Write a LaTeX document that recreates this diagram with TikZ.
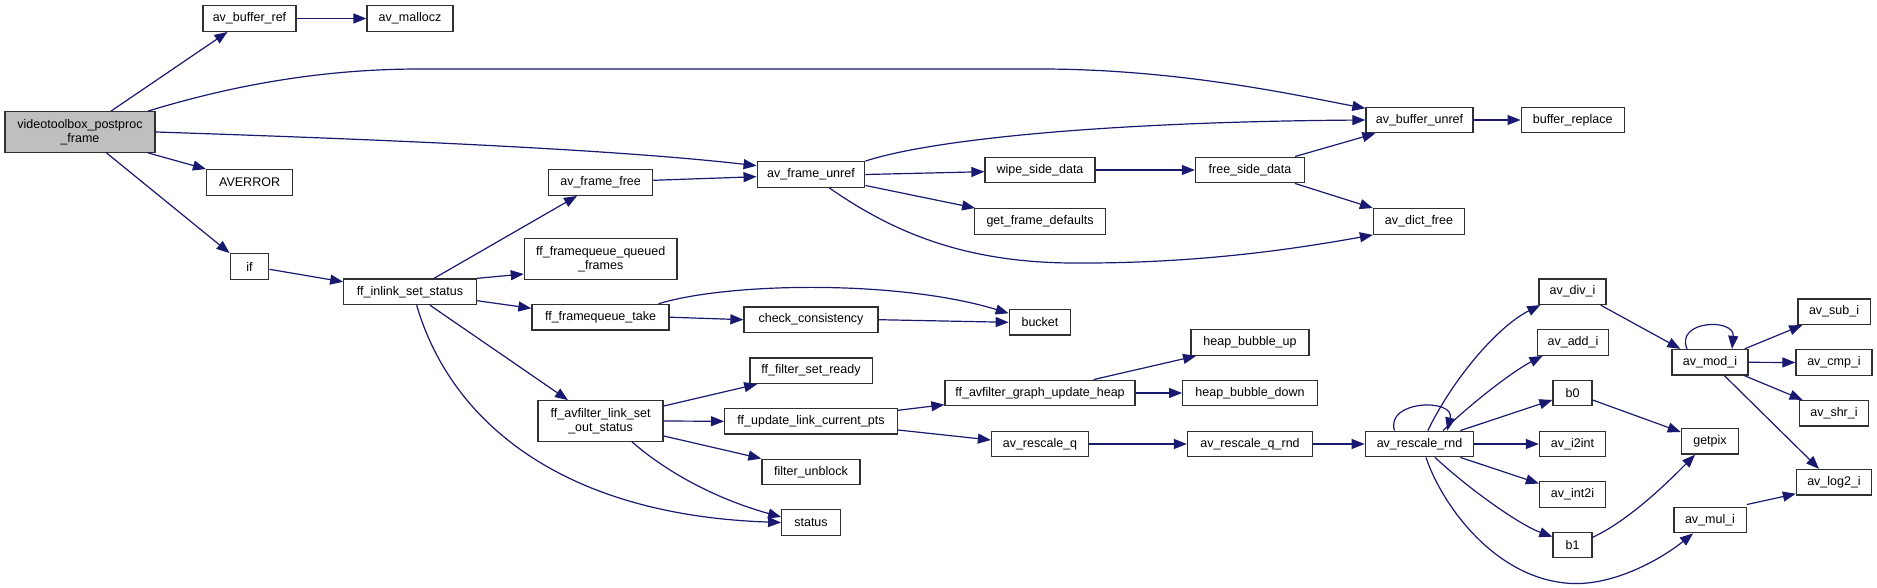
\documentclass[tikz,border=0pt]{standalone}
\usepackage{fontspec}
\newfontfamily\gfont{Liberation Sans}
\usetikzlibrary{arrows.meta}
\definecolor{edgec}{HTML}{191970}
\definecolor{rootc}{HTML}{BFBFBF}
\definecolor{boxc}{HTML}{303030}
\tikzset{
  fn/.style={draw=boxc, line width=1.3pt, fill=white, minimum height=25.6pt, inner sep=0pt,
    font=\gfont\fontsize{12.5}{14.3}\selectfont, align=center},
  fn2/.style={fn, minimum height=40.5pt},
  e/.style={draw=edgec, line width=1.2pt, -{Triangle[length=13pt,width=10pt]}},
}
\begin{document}
\begin{tikzpicture}[x=1pt,y=-1pt]
\fill[white] (0,0) rectangle (1877,588);
\path[use as bounding box] (0,0) rectangle (1877,588);
% nodes
\node[fn2,minimum width=150pt,fill=rootc] (vt) at (80,132) {videotoolbox\_postproc\\\_frame};
\node[fn,minimum width=93pt] (abr) at (249.5,18.5) {av\_buffer\_ref};
\node[fn,minimum width=86pt] (amz) at (410,18.5) {av\_mallocz};
\node[fn,minimum width=86pt] (averr) at (249.6,182.5) {AVERROR};
\node[fn,minimum width=38.6pt] (iff) at (249.5,266.5) {if};
\node[fn,minimum width=132.5pt] (fis) at (410,291.8) {ff\_inlink\_set\_status};
\node[fn,minimum width=104pt] (aff) at (600.6,182.5) {av\_frame\_free};
\node[fn2,minimum width=152.6pt] (fqq) at (600.7,259) {ff\_framequeue\_queued\\\_frames};
\node[fn,minimum width=137pt] (fqt) at (600.5,317.2) {ff\_framequeue\_take};
\node[fn2,minimum width=125pt] (flso) at (600.6,421) {ff\_avfilter\_link\_set\\\_out\_status};
\node[fn,minimum width=107.6pt] (afu) at (811,174.5) {av\_frame\_unref};
\node[fn,minimum width=110pt] (wsd) at (1040,170) {wipe\_side\_data};
\node[fn,minimum width=130.5pt] (gfd) at (1040,221.5) {get\_frame\_defaults};
\node[fn,minimum width=109pt] (fsd) at (1250,170) {free\_side\_data};
\node[fn,minimum width=107pt] (abu) at (1419.5,120) {av\_buffer\_unref};
\node[fn,minimum width=103pt] (brp) at (1572.7,120) {buffer\_replace};
\node[fn,minimum width=91pt] (adf) at (1419,221.5) {av\_dict\_free};
\node[fn,minimum width=134pt] (cc) at (811,319.7) {check\_consistency};
\node[fn,minimum width=61.4pt] (bkt) at (1040,322.3) {bucket};
\node[fn,minimum width=122.3pt] (fsr) at (811,370.7) {ff\_filter\_set\_ready};
\node[fn,minimum width=172.7pt] (fulc) at (811,421.3) {ff\_update\_link\_current\_pts};
\node[fn,minimum width=98pt] (fub) at (811,472) {filter\_unblock};
\node[fn,minimum width=58.5pt] (sts) at (811,522.5) {status};
\node[fn,minimum width=190pt] (fguh) at (1040,393) {ff\_avfilter\_graph\_update\_heap};
\node[fn,minimum width=97pt] (arq) at (1040,444) {av\_rescale\_q};
\node[fn,minimum width=118pt] (hbu) at (1250,342.5) {heap\_bubble\_up};
\node[fn,minimum width=134.6pt] (hbd) at (1250,393) {heap\_bubble\_down};
\node[fn,minimum width=125pt] (arqr) at (1250,444) {av\_rescale\_q\_rnd};
\node[fn,minimum width=108.5pt] (arr) at (1419.5,444) {av\_rescale\_rnd};
\node[fn,minimum width=67pt] (adi) at (1572.5,291.7) {av\_div\_i};
\node[fn,minimum width=71.6pt] (aai) at (1573,342.5) {av\_add\_i};
\node[fn,minimum width=39pt] (bz) at (1572.5,393) {b0};
\node[fn,minimum width=66pt] (ai2) at (1572.5,444) {av\_i2int};
\node[fn,minimum width=66pt] (ain) at (1572.5,494.5) {av\_int2i};
\node[fn,minimum width=39pt] (bo) at (1572.5,545) {b1};
\node[fn,minimum width=76pt] (ami) at (1710,362.3) {av\_mod\_i};
\node[fn,minimum width=57.3pt] (gpx) at (1710,441.3) {getpix};
\node[fn,minimum width=72.3pt] (amu) at (1710,520) {av\_mul\_i};
\node[fn,minimum width=72.3pt] (asu) at (1834,311.7) {av\_sub\_i};
\node[fn,minimum width=76pt] (acm) at (1834,362.5) {av\_cmp\_i};
\node[fn,minimum width=69.6pt] (ash) at (1834,413.3) {av\_shr\_i};
\node[fn,minimum width=75pt] (alg) at (1834,482.3) {av\_log2\_i};
% edges
\draw[e] ([shift={(31,0)}]vt.north) -- ([shift={(-22,0)}]abr.south);
\draw[e] ([shift={(68,0)}]vt.north) .. controls (230,86) and (320,69) .. (420,69) -- (1040,69) .. controls (1180,69) and (1300,96) .. ([shift={(0,-11.7)}]abu.west);
\draw[e] (vt.east) .. controls (400,140) and (620,150) .. ([shift={(0,-8.8)}]afu.west);
\draw[e] ([shift={(68,0)}]vt.south) -- (averr.north west);
\draw[e] ([shift={(26.5,0)}]vt.south) -- (iff.north west);
\draw[e] (abr.east) -- (amz.west);
\draw[e] ([shift={(0,2.8)}]iff.east) -- ([shift={(0,-10)}]fis.west);
\draw[e] ([shift={(24,0)}]fis.north) -- ([shift={(-23.6,0)}]aff.south);
\draw[e] (fis.north east) -- ([shift={(0,15)}]fqq.west);
\draw[e] ([shift={(0,8.9)}]fis.east) -- ([shift={(0,-8.9)}]fqt.west);
\draw[e] ([shift={(20,0)}]fis.south) -- ([shift={(-32.6,0)}]flso.north);
\draw[e] ([shift={(6.7,0)}]fis.south) .. controls (450,420) and (560,515) .. (sts.west);
\draw[e] ([shift={(0,-2.2)}]aff.east) -- ([shift={(0,2.2)}]afu.west);
\draw[e] (afu.north east) .. controls (930,140) and (1100,122) .. (abu.west);
\draw[e] (afu.east) -- ([shift={(0,1.7)}]wsd.west);
\draw[e] ([shift={(0,11)}]afu.east) -- ([shift={(1,0)}]gfd.north west);
\draw[e] ([shift={(18.3,0)}]afu.south) .. controls (890,230) and (960,262) .. (1070,263) .. controls (1200,264) and (1300,248) .. (adf.south west);
\draw[e] (wsd.east) -- (fsd.west);
\draw[e] ([shift={(45,0)}]fsd.north) -- ([shift={(10,0)}]abu.south west);
\draw[e] ([shift={(45,0)}]fsd.south) -- (adf.north west);
\draw[e] (abu.east) -- (brp.west);
\draw[e] ([shift={(58,0)}]fqt.north) .. controls (730,282) and (900,280) .. ([shift={(0,-9)}]bkt.west);
\draw[e] (fqt.east) -- (cc.west);
\draw[e] (cc.east) -- (bkt.west);
\draw[e] ([shift={(0,-15)}]flso.east) -- ([shift={(8,0)}]fsr.south west);
\draw[e] (flso.east) -- (fulc.west);
\draw[e] ([shift={(0,15)}]flso.east) -- (fub.north west);
\draw[e] ([shift={(31.4,0)}]flso.south) .. controls (670,475) and (720,500) .. ([shift={(0,-5.5)}]sts.west);
\draw[e] ([shift={(0,-11)}]fulc.east) -- ([shift={(0,11.7)}]fguh.west);
\draw[e] ([shift={(0,8.7)}]fulc.east) -- ([shift={(0,-4)}]arq.west);
\draw[e] ([shift={(53.6,0)}]fguh.north) -- ([shift={(5.7,0)}]hbu.south west);
\draw[e] (fguh.east) -- (hbd.west);
\draw[e] (arq.east) -- (arqr.west);
\draw[e] (arqr.east) -- (arr.west);
\draw[e] ([shift={(-25,0)}]arr.north) .. controls (1385,400) and (1455,398) .. ([shift={(27.8,0)}]arr.north);
\draw[e] ([shift={(8.3,0)}]arr.north) .. controls (1455,375) and (1500,325) .. ([shift={(2,0)}]adi.south west);
\draw[e] ([shift={(23.5,0)}]arr.north) .. controls (1475,400) and (1515,370) .. ([shift={(6,0)}]aai.south west);
\draw[e] ([shift={(-14,0)}]arr.north east) -- ([shift={(0,7)}]bz.west);
\draw[e] (arr.east) -- (ai2.west);
\draw[e] ([shift={(-14,0)}]arr.south east) -- ([shift={(0,-11)}]ain.west);
\draw[e] ([shift={(15.5,0)}]arr.south) .. controls (1470,490) and (1520,525) .. ([shift={(0,-8.3)}]bo.west);
\draw[e] ([shift={(6.5,0)}]arr.south) .. controls (1440,500) and (1490,575) .. (1565,583) .. controls (1610,588) and (1660,560) .. ([shift={(-17,0)}]amu.south);
\draw[e] ([shift={(-6,0)}]adi.south east) -- ([shift={(9,0)}]ami.north west);
\draw[e] ([shift={(-23,0)}]ami.north) .. controls (1675,320) and (1735,318) .. ([shift={(22,0)}]ami.north);
\draw[e] ([shift={(-4,0)}]ami.north east) -- ([shift={(5,0)}]asu.south west);
\draw[e] (ami.east) -- (acm.west);
\draw[e] ([shift={(-4,0)}]ami.south east) -- ([shift={(4,0)}]ash.north west);
\draw[e] ([shift={(14.5,0)}]ami.south) -- ([shift={(-15,0)}]alg.north);
\draw[e] ([shift={(0,7)}]bz.east) -- ([shift={(0,-9.3)}]gpx.west);
\draw[e] ([shift={(0,-7.7)}]bo.east) .. controls (1630,520) and (1670,480) .. ([shift={(-15,0)}]gpx.south);
\draw[e] ([shift={(0,-2)}]amu.north east) -- ([shift={(0,-2)}]alg.south west);
\end{tikzpicture}
\end{document}
